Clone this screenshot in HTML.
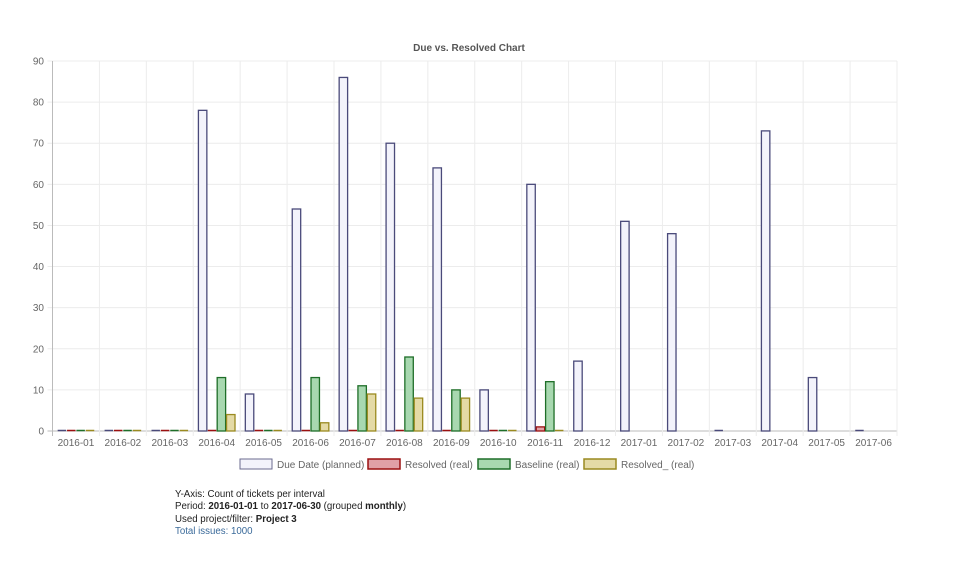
<!DOCTYPE html>
<html><head><meta charset="utf-8"><style>
body{margin:0;background:#fff;width:953px;height:578px;overflow:hidden;font-family:"Liberation Sans",Arial,sans-serif}
.info{position:absolute;left:175px;top:489px;font-size:9.7px;line-height:12.4px;color:#222}
.info b{font-weight:bold}
</style></head><body>
<svg width="953" height="578" style="position:absolute;left:0;top:0" font-family="Liberation Sans, Arial, sans-serif">
<text x="469" y="51" text-anchor="middle" font-size="10" font-weight="bold" fill="#555">Due vs. Resolved Chart</text>
<g id="grid"></g>
<g id="bars"></g>
<g id="lab"></g>
<g font-size="10" fill="#666">
<rect x="240" y="459" width="32" height="10" fill="#f3f3fb" stroke="#6b6b8f" stroke-width="1"/>
<text x="277" y="468">Due Date (planned)</text>
<rect x="368" y="459" width="32" height="10" fill="#e0a0a6" stroke="#9b1010" stroke-width="1.5"/>
<text x="405" y="468">Resolved (real)</text>
<rect x="478" y="459" width="32" height="10" fill="#a8d8b0" stroke="#1e6e28" stroke-width="1.5"/>
<text x="515" y="468">Baseline (real)</text>
<rect x="584" y="459" width="32" height="10" fill="#e4daa6" stroke="#9a8a20" stroke-width="1.5"/>
<text x="621" y="468">Resolved_ (real)</text>
</g>
</svg>
<div class="info">Y-Axis: Count of tickets per interval<br>Period: <b>2016-01-01</b> to <b>2017-06-30</b> (grouped <b>monthly</b>)<br>Used project/filter: <b>Project 3</b><br><span style="color:#3a6a9a">Total issues: 1000</span></div>
<script>
var ns="http://www.w3.org/2000/svg";
function el(p,t,a,txt){var e=document.createElementNS(ns,t);for(var k in a)e.setAttribute(k,a[k]);if(txt!=null)e.textContent=txt;document.getElementById(p).appendChild(e);}
var x0=52.5,x1=897,y0=431,yt=61,cw=(x1-x0)/18,s=(y0-yt)/90;
for(var i=0;i<=9;i++){var y=y0-i*10*s;el("grid","line",{x1:x0-5,x2:x1,y1:y,y2:y,stroke:i==0?"#bbb":"#ececec"});el("lab","text",{x:44,y:y+3.5,"text-anchor":"end","font-size":"10",fill:"#666"},i*10);}
for(var i=0;i<=18;i++){var x=x0+i*cw;el("grid","line",{x1:x,x2:x,y1:yt,y2:y0+5,stroke:i==0?"#bbb":"#ececec"});}
var cats=["2016-01","2016-02","2016-03","2016-04","2016-05","2016-06","2016-07","2016-08","2016-09","2016-10","2016-11","2016-12","2017-01","2017-02","2017-03","2017-04","2017-05","2017-06"];
var d=[[0,0,0,78,9,54,86,70,64,10,60,17,51,48,0,73,13,0],[0,0,0,0,0,0,0,0,0,0,1],[0,0,0,13,0,13,11,18,10,0,12],[0,0,0,4,0,2,9,8,8,0,0]];
var fill=["#f3f3fb","#e0a0a6","#a8d8b0","#e4daa6"],st=["#4a4a7a","#9b1010","#1e6e28","#9a8a20"];
for(var i=0;i<18;i++){el("lab","text",{x:x0+i*cw+cw/2,y:446,"text-anchor":"middle","font-size":"10",fill:"#666"},cats[i]);
var gw=cw*0.8,sl=gw/4,bw=sl*0.9,gx=x0+i*cw+cw*0.1;
for(var k=0;k<4;k++){if(d[k][i]==null)continue;var v=d[k][i],h=v*s,bx=gx+k*sl+sl*0.05;
if(v==0)el("bars","line",{x1:bx,x2:bx+bw,y1:y0-0.5,y2:y0-0.5,stroke:st[k],"stroke-width":1.5});
else el("bars","rect",{x:bx,y:y0-h,width:bw,height:h,fill:fill[k],stroke:st[k],"stroke-width":1.3});}}
</script>
</body></html>
